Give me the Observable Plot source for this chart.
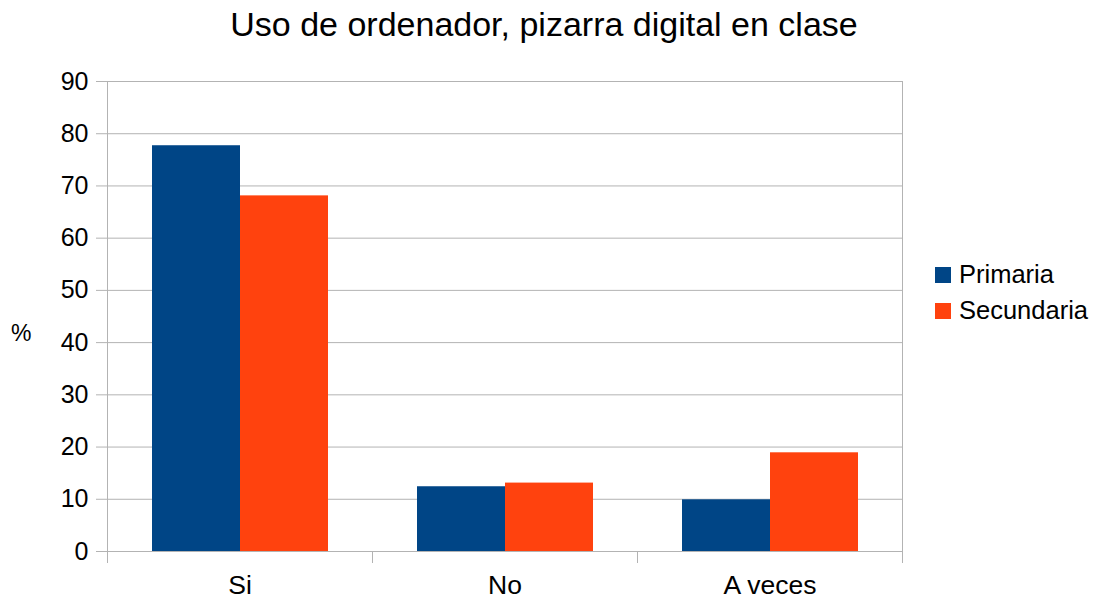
<!DOCTYPE html>
<html>
<head>
<meta charset="utf-8">
<script src="https://cdn.jsdelivr.net/npm/d3@7"></script>
<script src="https://cdn.jsdelivr.net/npm/@observablehq/plot@0.6"></script>
<style>
  html, body { margin: 0; padding: 0; background: white; }
  #wrap { position: relative; width: 1094px; height: 600px; font-family: "Liberation Sans", Arial, sans-serif; color: #000; }
  #title { position: absolute; left: 0; top: 7px; width: 1088px; text-align: center; font-size: 34px; line-height: 34px; }
  #ylab { position: absolute; left: 11px; top: 322px; font-size: 23px; line-height: 23px; }
  .leg { position: absolute; left: 935px; font-size: 25.5px; line-height: 25px; display: flex; align-items: center; }
  .sw { width: 16px; height: 16px; margin-right: 8px; }
</style>
</head>
<body>
<div id="wrap">
  <div id="chart"></div>
  <div id="title">Uso de ordenador, pizarra digital en clase</div>
  <div id="ylab">%</div>
  <div id="legend"></div>
</div>
<script>
const categories = ["Si", "No", "A veces"];
const seriesNames = ["Primaria", "Secundaria"];
const primaria = [77.7, 12.4, 9.9];
const secundaria = [68.1, 13.1, 18.9];
const yTicks = [0, 10, 20, 30, 40, 50, 60, 70, 80, 90];
const colors = ["#004586", "#ff420e"];

const data = categories.flatMap((c, i) => [
  {category: c, series: seriesNames[0], value: primaria[i]},
  {category: c, series: seriesNames[1], value: secundaria[i]}
]);

const W = 1094, H = 600, mT = 81, mB = 49, mL = 106, mR = 191;
const innerH = H - mT - mB;
const gridColor = "#b3b3b3";

const chart = Plot.plot({
  width: W, height: H,
  marginTop: mT, marginBottom: mB, marginLeft: mL, marginRight: mR,
  style: {fontFamily: "Liberation Sans, Arial, sans-serif", fontSize: "25px", color: "#000", background: "transparent"},
  fx: {domain: categories, padding: 0, label: null},
  x: {domain: seriesNames, paddingInner: 0, paddingOuter: 0.5, axis: null},
  y: {domain: [0, 90], ticks: yTicks, label: null},
  color: {domain: seriesNames, range: colors},
  marks: [
    Plot.gridY(yTicks, {stroke: gridColor, strokeOpacity: 1, strokeWidth: 1}),
    Plot.barY(data, {fx: "category", x: "series", y: "value", fill: "series"}),
    Plot.axisY(yTicks, {tickSize: 11, tickPadding: 8, stroke: gridColor, strokeOpacity: 1, fill: "#000", fontSize: 25, label: null}),
    Plot.frame({facet: "super", stroke: gridColor, strokeOpacity: 1}),
    Plot.frame({anchor: "left", insetTop: innerH, insetBottom: -11, stroke: gridColor, strokeOpacity: 1}),
    Plot.frame({anchor: "right", insetTop: innerH, insetBottom: -11, stroke: gridColor, strokeOpacity: 1}),
    Plot.axisFx({anchor: "bottom", tickSize: 0, tickPadding: 23.5, fontSize: 26.5, fill: "#000", label: null})
  ]
});
document.getElementById("chart").appendChild(chart);

const legend = document.getElementById("legend");
seriesNames.forEach((s, i) => {
  const row = document.createElement("div");
  row.className = "leg";
  row.style.top = (262 + i * 36) + "px";
  const sw = document.createElement("div");
  sw.className = "sw";
  sw.style.background = colors[i];
  const t = document.createElement("span");
  t.textContent = s;
  row.appendChild(sw);
  row.appendChild(t);
  legend.appendChild(row);
});
</script>
</body>
</html>
